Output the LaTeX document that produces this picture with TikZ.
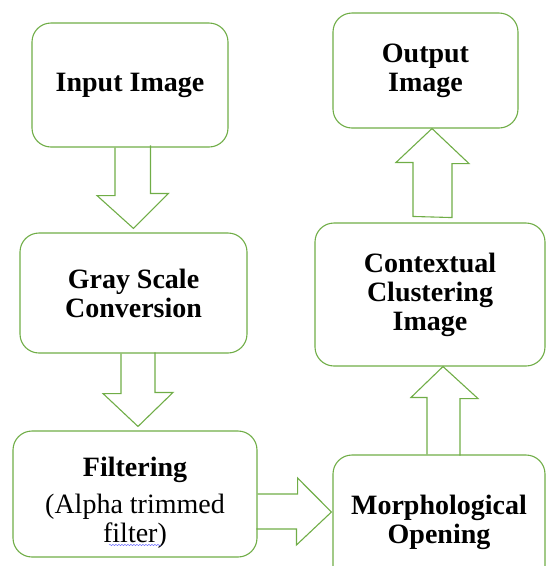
\documentclass[tikz,border=0pt]{standalone}
\usepackage{fontspec}
\setmainfont{Liberation Serif}
\usetikzlibrary{calc,decorations.pathmorphing}
\definecolor{boxgreen}{RGB}{112,173,71}

\begin{document}
\begin{tikzpicture}[
  x=1pt, y=-1pt,
  stage/.style={rectangle, draw=boxgreen, line width=1.1pt, rounded corners=19pt, align=center, inner sep=0pt, font=\fontsize{28}{29}\selectfont\bfseries},
  barrow/.style={draw=boxgreen, line width=1.1pt, line join=miter}
]
\useasboundingbox (0,0) rectangle (546,566);

% left column
\node[stage, minimum width=196pt, minimum height=124pt] (inimg) at (130,85) {Input Image};
\node[stage, minimum width=227pt, minimum height=120pt] (gray) at (133.5,293) {Gray Scale\\Conversion};
\node[stage, minimum width=244pt, minimum height=126pt] (filt) at (135,494) {\rule{0pt}{36pt}Filtering\\[8pt]\mdseries (Alpha trimmed\\\mdseries filter)};

% right column
\node[stage, minimum width=212pt, minimum height=135pt] (morph) at (439,522.5) {Morphological\\Opening};
\node[stage, minimum width=230pt, minimum height=143pt] (ctx) at (430,294.5) {Contextual\\Clustering\\Image};
\node[stage, minimum width=185pt, minimum height=115pt] (outimg) at (425.5,70.5) {Output\\Image};

% block arrows
\draw[barrow] ([xshift=-15pt]inimg.south) -- ++(0,48) -- ++(-18,0) -- ([yshift=4pt]gray.north) -- ++(35,-35) -- ++(-18,0) -- ++(0,-48);
\draw[barrow] ([xshift=-12.5pt]gray.south) -- ++(0,40) -- ++(-18,0) -- ([xshift=3pt,yshift=4pt]filt.north) -- ++(35,-34) -- ++(-18,0) -- ++(0,-40);
\draw[barrow] (filt.east) -- ++(40,0) -- ++(0,-16) -- ([xshift=-1pt,yshift=10.5pt]morph.west) -- ++(-35,33) -- ++(0,-16) -- ++(-40,0);
\draw[barrow] ([xshift=-12pt]morph.north) -- ++(0,-57) -- ++(-16,0) -- ([xshift=13pt]ctx.south) -- ++(35,32) -- ++(-18,0) -- ++(0,57);
\draw[barrow] ([xshift=-17pt,yshift=6pt]ctx.north) -- ++(0,-54) -- ++(-17,0) -- ([xshift=6.5pt]outimg.south) -- ++(37,35) -- ++(-17,0) -- ++(0,54) -- cycle;

% spell-check squiggle
\draw[blue!60, line width=0.5pt, decorate, decoration={snake, amplitude=0.6pt, segment length=3pt}] ($(filt.center)+(-26,51)$) -- ++(52,0);
\end{tikzpicture}
\end{document}
